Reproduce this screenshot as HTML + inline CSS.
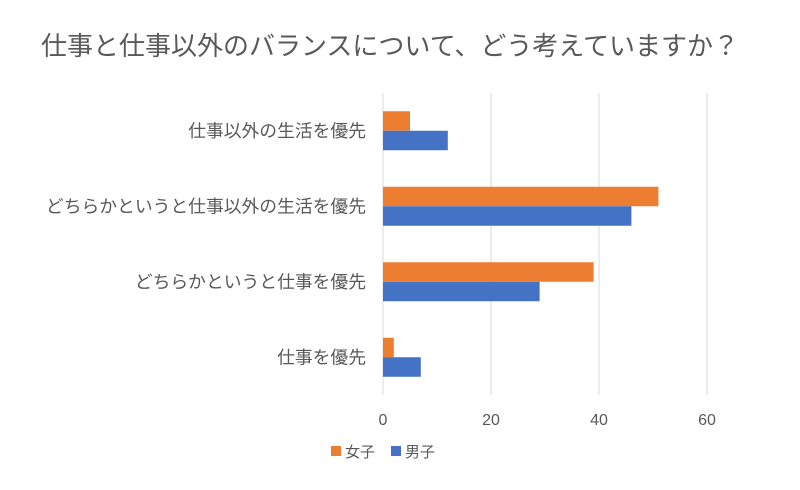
<!DOCTYPE html>
<html><head><meta charset="utf-8"><style>
html,body{margin:0;padding:0;background:#fff;}
svg text{font-family:"Liberation Sans","Noto Sans CJK JP",sans-serif;}
</style></head><body>
<svg id="chart" width="800" height="485" viewBox="0 0 800 485" xmlns="http://www.w3.org/2000/svg">
<rect width="800" height="485" fill="#fff"/>
<text x="390" y="55" text-anchor="middle" font-size="26" fill="#595959">仕事と仕事以外のバランスについて、どう考えていますか？</text>
<g id="grid"></g><g id="bars"></g><g id="cats"></g><g id="ticks"></g>
<g>
<rect x="331" y="446" width="10" height="10" fill="#ED7D31"/>
<text x="345" y="457" font-size="15" fill="#595959">女子</text>
<rect x="391" y="446" width="10" height="10" fill="#4472C4"/>
<text x="405" y="457" font-size="15" fill="#595959">男子</text>
</g>
</svg>
<script>
const categories=["仕事以外の生活を優先","どちらかというと仕事以外の生活を優先","どちらかというと仕事を優先","仕事を優先"];
const female=[5,51,39,2];
const male=[12,46,29,7];
const ticks=[0,20,40,60];
const NS="http://www.w3.org/2000/svg";
const x0=383,pxPer=5.4,plotTop=93,band=75.5,barH=19.5;
const xs=v=>x0+v*pxPer;
function mk(tag,attrs,parent){const e=document.createElementNS(NS,tag);for(const k in attrs)e.setAttribute(k,attrs[k]);document.getElementById(parent).appendChild(e);return e;}
ticks.forEach((t,i)=>{
  if(i>0){const l=mk('line',{x1:xs(t),x2:xs(t),y1:plotTop,y2:plotTop+band*4,stroke:'#d9d9d9','stroke-width':1},'grid');
  
  }
  const tx=mk('text',{x:xs(t),y:425,'text-anchor':'middle','font-size':16,fill:'#595959'},'ticks');tx.textContent=t;
  
  
});
const ax=mk('line',{x1:x0,x2:x0,y1:plotTop,y2:plotTop+band*4,stroke:'#d9d9d9','stroke-width':1},'grid');


categories.forEach((c,i)=>{
  const cy=plotTop+band*i+band/2;
  const bf=mk('rect',{x:x0,y:cy-barH,width:xs(female[i])-x0,height:barH,fill:'#ED7D31'},'bars');
  
  
  const bm=mk('rect',{x:x0,y:cy,width:xs(male[i])-x0,height:barH,fill:'#4472C4'},'bars');
  
  
  const t=mk('text',{x:366,y:cy+6,'text-anchor':'end','font-size':17.8,fill:'#595959'},'cats');t.textContent=c;
  
  
});
</script>
</body></html>
